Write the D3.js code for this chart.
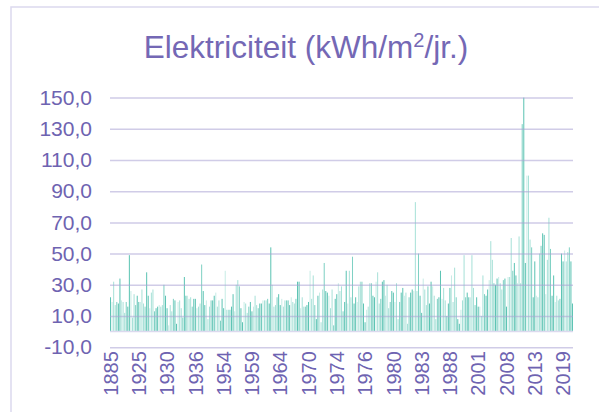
<!DOCTYPE html>
<html>
<head>
<meta charset="utf-8">
<script src="https://cdn.jsdelivr.net/npm/d3@7"></script>
<style>
  body { margin: 0; background: #fff; }
  text { font-family: "Liberation Sans", Arial, sans-serif; }
</style>
</head>
<body>
<div id="chart"></div>
<script>
// Category labels shown on the axis (every 18th building)
var tickLabels = ["1885", "1925", "1930", "1936", "1954", "1959", "1964", "1970", "1974",
  "1976", "1980", "1983", "1988", "2001", "2008", "2013", "2019"];
var labelStep = 18;

// kWh/m2 per building
var values = [
  22, 19, 32, 17, 19, 18, 34, 20, 19, 12, 19, 16, 49, 26, 9, 24, 17, 23, 19, 19,
  27, 18, 16, 38, 23, 15, 25, 27, 13, 15, 16, 17, 16, 17, 30, 23, 15, 4, 17, 13,
  21, 20, 5, 19, 20, 15, 9, 35, 23, 23, 21, 22, 16, 21, 21, 15, 16, 18, 43,
  26, 17, 20, 8, 16, 20, 20, 23, 25, 16, 20, 7, 21, 15, 39, 14, 14, 14, 16, 24,
  13, 30, 33, 29, 15, 6, 19, 18, 12, 16, 19, 13, 16, 23, 17, 15, 18, 18, 20, 20,
  20, 21, 18, 54, 30, 16, 17, 22, 24, 17, 21, 16, 20, 20, 20, 17, 22, 19,
  18, 21, 32, 32, 15, 22, 16, 16, 17, 19, 39, 21, 36, 17, 8, 23, 25, 6, 27, 44,
  26, 25, 23, 15, 27, 4, 21, 24, 31, 26, 29, 13, 19, 39, 18, 39, 22, 48, 18, 22,
  19, 29, 32, 32, 18, 6, 14, 16, 31, 31, 23, 22, 32, 38, 18, 21, 32, 33, 23,
  30, 15, 19, 26, 25, 19, 31, 8, 19, 25, 28, 23, 25, 5, 22, 25, 27, 26, 83, 26,
  50, 23, 12, 34, 27, 17, 29, 18, 32, 29, 23, 8, 21, 22, 39, 21, 28, 20, 10, 18,
  28, 36, 19, 41, 22, 8, 5, 14, 20, 49, 22, 25, 22, 22, 49, 28, 17, 22, 16,
  16, 10, 36, 24, 23, 27, 33, 58, 46, 31, 30, 34, 35, 31, 27, 33, 34, 16, 35, 35,
  60, 39, 44, 36, 31, 61, 31, 133, 150, 44, 100, 100, 59, 54, 22, 45, 23, 22, 50, 55,
  63, 62, 24, 46, 73, 53, 23, 36, 19, 23, 20, 21, 50, 45, 52, 45, 51, 54, 45, 18
];

var yTicks = [-10, 10, 30, 50, 70, 90, 110, 130, 150];

var width = 599, height = 412;
var plot = {left: 110, right: 573, top: 97.6, bottom: 347.2};
var textColor = '#6e63b1';
var gridColor = '#a9a3d3';
var palette = ['#5ec4b4', '#80d1c4', '#a8e1d8', '#c8ece6'];

var svg = d3.select('#chart').append('svg')
  .attr('width', width)
  .attr('height', height);

// chart border (runs off the right and bottom edge)
svg.append('rect')
  .attr('x', 11).attr('y', 7)
  .attr('width', 620).attr('height', 440)
  .attr('fill', 'none')
  .attr('stroke', '#dcd9ee')
  .attr('stroke-width', 1.5);

// Title
var title = svg.append('text')
  .attr('x', 306)
  .attr('y', 58)
  .attr('text-anchor', 'middle')
  .attr('fill', '#7468b5')
  .attr('font-size', 31.5);
title.append('tspan').text('Elektriciteit (kWh/m');
title.append('tspan').attr('font-size', 20).attr('dy', -11).text('2');
title.append('tspan').attr('dy', 11).text('/jr.)');

var x = d3.scaleBand()
  .domain(d3.range(values.length))
  .range([plot.left, plot.right])
  .paddingInner(0.35);

var y = d3.scaleLinear()
  .domain([-10, 150])
  .range([plot.bottom, plot.top]);

// Bars
svg.append('g').selectAll('rect')
  .data(values)
  .enter().append('rect')
  .attr('x', function(d, i) { return x(i); })
  .attr('width', x.bandwidth())
  .attr('y', function(d) { return y(d); })
  .attr('height', function(d) { return y(0) - y(d); })
  .attr('fill', function(d, i) { return palette[(i * 7 + Math.floor(i / 3)) % 4]; });

// Gridlines on top of the bars
var yAxis = d3.axisLeft(y)
  .tickValues(yTicks)
  .tickSize(-(plot.right - plot.left))
  .tickFormat(function(d) { return d3.format('.1f')(d).replace('.', ',').replace('\u2212', '-'); });

var ya = svg.append('g')
  .attr('transform', 'translate(' + plot.left + ',0)')
  .call(yAxis);
ya.select('.domain').remove();
ya.selectAll('line')
  .attr('stroke', gridColor)
  .attr('stroke-opacity', 0.55)
  .attr('stroke-width', 1.5);
ya.selectAll('text')
  .attr('x', -18)
  .attr('fill', textColor)
  .attr('font-size', 21)
  .style('font-family', '"Liberation Sans", Arial, sans-serif');

// zero line
svg.append('line')
  .attr('x1', plot.left).attr('x2', plot.right)
  .attr('y1', y(0)).attr('y2', y(0))
  .attr('stroke', '#dcd9ee')
  .attr('stroke-width', 1.5);

// Category axis
var xAxis = d3.axisBottom(x)
  .tickValues(d3.range(0, values.length, labelStep))
  .tickSize(0)
  .tickFormat(function(i) { return tickLabels[i / labelStep]; });

var xa = svg.append('g')
  .attr('transform', 'translate(0,' + plot.bottom + ')')
  .call(xAxis);
xa.select('.domain').remove();
xa.selectAll('text')
  .attr('transform', 'rotate(-90)')
  .attr('x', -4)
  .attr('y', 0)
  .attr('dy', '0.36em')
  .attr('text-anchor', 'end')
  .attr('fill', textColor)
  .attr('font-size', 20)
  .style('font-family', '"Liberation Sans", Arial, sans-serif');
</script>
</body>
</html>
